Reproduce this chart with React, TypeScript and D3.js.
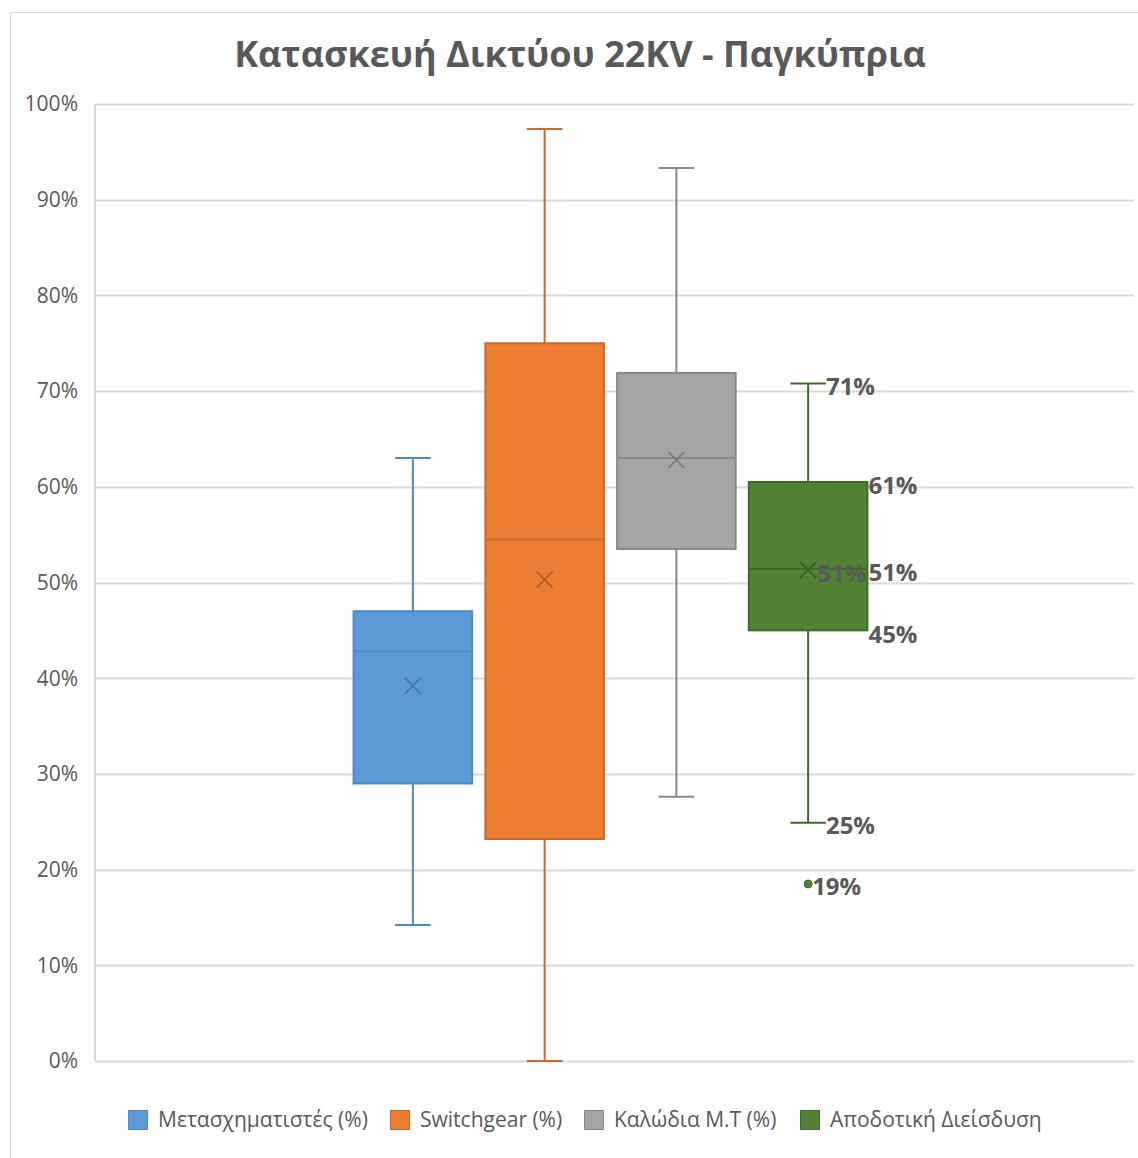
import * as d3 from 'd3';
import React from 'react';

// Box plot statistics (fractions of 1)
const seriesNames = [
  'Μετασχηματιστές (%)',
  'Switchgear (%)',
  'Καλώδια Μ.Τ (%)',
  'Αποδοτική Διείσδυση'
];
const whiskerLow = [0.142, 0.0, 0.276, 0.249];
const quartile1 = [0.29, 0.232, 0.535, 0.45];
const medians = [0.428, 0.545, 0.63, 0.514];
const quartile3 = [0.47, 0.75, 0.719, 0.605];
const whiskerHigh = [0.63, 0.974, 0.933, 0.708];
const means = [0.392, 0.503, 0.628, 0.513];
const outliers = [[], [], [], [0.185]];
const showLabels = [false, false, false, true];

const yTicks = [0, 0.1, 0.2, 0.3, 0.4, 0.5, 0.6, 0.7, 0.8, 0.9, 1];
const fills = ['#5B9BD5', '#ED7D31', '#A5A5A5', '#548235'];
const strokes = ['#4F88C6', '#C9692B', '#898989', '#3E6A28'];
const legendX = [128, 390, 584, 800];

const W = 1138;
const H = 1158;
const margin = { top: 104, right: 4, bottom: 97, left: 95 };
const FONT = '"Open Sans", "Noto Sans", sans-serif';
const TEXT = '#595959';

export default function App() {
  const y = d3
    .scaleLinear()
    .domain([0, 1])
    .range([H - margin.bottom, margin.top]);

  // single category, the four series sit side by side inside it
  const x = d3
    .scaleBand<string>()
    .domain(seriesNames)
    .range([347, 874])
    .paddingInner(0.1)
    .paddingOuter(0.05);

  const pct = d3.format('.0%');
  const capW = x.bandwidth() * 0.3;

  return (
    <svg
      width={W}
      height={H}
      style={{ position: 'absolute', left: 0, top: 0, background: '#fff' }}
      fontFamily={FONT}
    >
      <rect x={10.5} y={12.5} width={W} height={H} fill="#fff" stroke="#D9D9D9" />
      <text
        x={580}
        y={67}
        textAnchor="middle"
        fontSize={36}
        fontWeight="bold"
        fill={TEXT}
      >
        Κατασκευή Δικτύου 22KV - Παγκύπρια
      </text>

      {/* gridlines and y labels */}
      {yTicks.map((t) => (
        <g key={t}>
          <line
            x1={margin.left}
            x2={W - margin.right}
            y1={Math.round(y(t)) + 0.5}
            y2={Math.round(y(t)) + 0.5}
            stroke="#D9D9D9"
            strokeWidth={2}
          />
          <text
            x={78}
            y={y(t)}
            dy="0.35em"
            textAnchor="end"
            fontSize={21}
            fill={TEXT}
          >
            {pct(t)}
          </text>
        </g>
      ))}
      <line
        x1={margin.left}
        x2={margin.left}
        y1={y(1)}
        y2={y(0)}
        stroke="#D9D9D9"
        strokeWidth={2}
      />

      {seriesNames.map((name, i) => {
        const x0 = x(name) as number;
        const cx = x0 + x.bandwidth() / 2;
        const bw = x.bandwidth();
        const sc = strokes[i];
        return (
          <g key={name}>
            {/* whiskers */}
            <line x1={cx} x2={cx} y1={y(whiskerHigh[i])} y2={y(quartile3[i])} stroke={sc} strokeWidth={2} />
            <line x1={cx} x2={cx} y1={y(quartile1[i])} y2={y(whiskerLow[i])} stroke={sc} strokeWidth={2} />
            <line x1={cx - capW / 2} x2={cx + capW / 2} y1={y(whiskerHigh[i])} y2={y(whiskerHigh[i])} stroke={sc} strokeWidth={2} />
            <line x1={cx - capW / 2} x2={cx + capW / 2} y1={y(whiskerLow[i])} y2={y(whiskerLow[i])} stroke={sc} strokeWidth={2} />
            {/* box */}
            <rect
              x={x0}
              y={y(quartile3[i])}
              width={bw}
              height={y(quartile1[i]) - y(quartile3[i])}
              fill={fills[i]}
              stroke={sc}
              strokeWidth={2}
            />
            <line x1={x0} x2={x0 + bw} y1={y(medians[i])} y2={y(medians[i])} stroke={sc} strokeWidth={2} />
            {/* mean marker */}
            <path
              d={`M${cx - 8},${y(means[i]) - 8}L${cx + 8},${y(means[i]) + 8}M${cx + 8},${y(means[i]) - 8}L${cx - 8},${y(means[i]) + 8}`}
              stroke={d3.color(sc)!.darker(0.4).toString()}
              strokeWidth={1.6}
              fill="none"
            />
            {outliers[i].map((o) => (
              <circle key={o} cx={cx} cy={y(o)} r={4} fill={fills[i]} stroke={sc} />
            ))}
            {showLabels[i] && (
              <g fontSize={24} fontWeight="bold" fill={TEXT} dominantBaseline="central">
                <text x={cx + capW / 2} y={y(whiskerHigh[i]) + 2}>{pct(whiskerHigh[i])}</text>
                <text x={x0 + bw + 1} y={y(quartile3[i]) + 2}>{pct(quartile3[i])}</text>
                <text x={cx + 9} y={y(means[i]) + 2}>{pct(means[i])}</text>
                <text x={x0 + bw + 1} y={y(medians[i]) + 2}>{pct(medians[i])}</text>
                <text x={x0 + bw + 1} y={y(quartile1[i]) + 3}>{pct(quartile1[i])}</text>
                <text x={cx + capW / 2} y={y(whiskerLow[i]) + 2}>{pct(whiskerLow[i])}</text>
                {outliers[i].map((o) => (
                  <text key={o} x={cx + 4} y={y(o) + 2}>{pct(o)}</text>
                ))}
              </g>
            )}
          </g>
        );
      })}

      {/* legend */}
      {seriesNames.map((name, i) => (
        <g key={name} transform={`translate(${legendX[i]},1110)`}>
          <rect x={0.5} y={0.5} width={19} height={19} fill={fills[i]} stroke={strokes[i]} />
          <text x={30} y={10} dy="0.35em" fontSize={21} fill={TEXT}>
            {name}
          </text>
        </g>
      ))}
    </svg>
  );
}
